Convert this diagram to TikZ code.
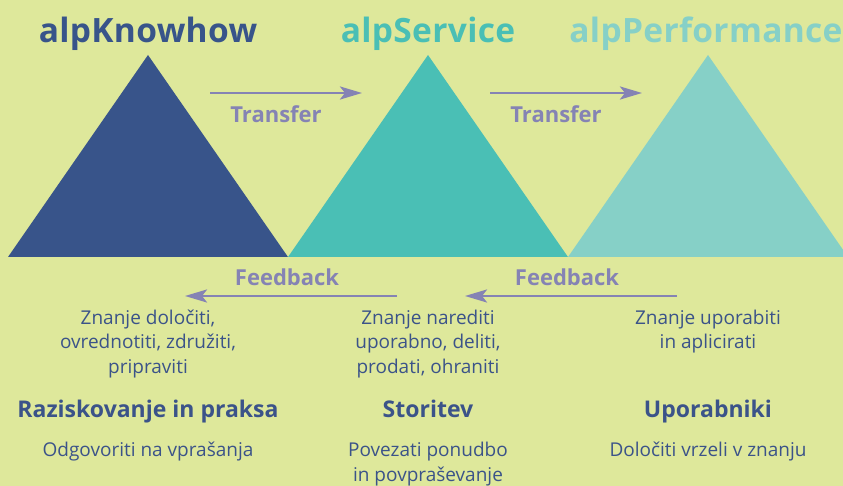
\documentclass[tikz,border=0pt]{standalone}
\usepackage{fontspec}
\setmainfont{Open Sans}
\newfontfamily\titlefont[LetterSpace=1]{Open Sans Bold}
\usetikzlibrary{arrows.meta}
\definecolor{bg}{HTML}{DEE89B}
\definecolor{dblue}{HTML}{38548A}
\definecolor{teal1}{HTML}{4ABFB5}
\definecolor{teal2}{HTML}{86D0C7}
\definecolor{arr}{HTML}{8583B4}
\definecolor{txt}{HTML}{3B5389}
\tikzset{
  title/.style={anchor=base,inner sep=0pt,font=\titlefont\fontsize{33.5}{38}\selectfont},
  flowlbl/.style={anchor=base,inner sep=0pt,text=arr,font=\bfseries\fontsize{22}{26}\selectfont},
  flowarrow/.style={draw=arr,line width=2.8pt,-{Stealth[length=22pt,width=13pt,inset=5pt]}},
  bodytxt/.style={anchor=base,inner sep=0pt,align=center,text=txt,font=\fontsize{19}{24.5}\selectfont},
  headtxt/.style={anchor=base,inner sep=0pt,text=txt,font=\bfseries\fontsize{23}{27}\selectfont},
}
\begin{document}
\begin{tikzpicture}[x=1pt,y=-1pt]
\fill[bg] (0,0) rectangle (843,486);
\useasboundingbox (0,0) rectangle (843,486);
\begin{scope}
\clip (0,0) rectangle (843,486);
\fill[dblue] (8,257) -- (148,55) -- (288,257) -- cycle;
\fill[teal1] (288,257) -- (428,55) -- (568,257) -- cycle;
\fill[teal2] (568,257) -- (708,55) -- (848,257) -- cycle;
\end{scope}
\node[title,text=dblue] (t1) at (148,43) {alpKnowhow};
\node[title,text=teal1] (t2) at (428,43) {alpService};
\node[title,text=teal2] (t3) at (706,43) {alpPerformance};
% transfer arrows
\coordinate (ta1) at (210,93);
\coordinate (tb1) at (362,93);
\coordinate (ta2) at (490,93);
\coordinate (tb2) at (642,93);
\draw[flowarrow] (ta1) -- (tb1);
\draw[flowarrow] (ta2) -- (tb2);
\node[flowlbl] (tr1) at (276,123) {Transfer};
\node[flowlbl] (tr2) at (556,123) {Transfer};
% feedback arrows
\coordinate (fa1) at (397,296);
\coordinate (fb1) at (185,296);
\coordinate (fa2) at (677,296);
\coordinate (fb2) at (465,296);
\draw[flowarrow] (fa1) -- (fb1);
\draw[flowarrow] (fa2) -- (fb2);
\node[flowlbl] (fe1) at (287,286) {Feedback};
\node[flowlbl] (fe2) at (567,286) {Feedback};
% body text (base anchor = last line baseline)
\node[bodytxt] (b1) at (148,373) {Znanje določiti,\\ovrednotiti, združiti,\\pripraviti};
\node[bodytxt] (b2) at (428,373) {Znanje narediti\\uporabno, deliti,\\prodati, ohraniti};
\node[bodytxt] (b3) at (708,348.5) {Znanje uporabiti\\in aplicirati};
\node[headtxt] (h1) at (148,417) {Raziskovanje in praksa};
\node[headtxt] (h2) at (428,417) {Storitev};
\node[headtxt] (h3) at (708,417) {Uporabniki};
\node[bodytxt] (d1) at (148,456) {Odgovoriti na vprašanja};
\node[bodytxt] (d2) at (428,481) {Povezati ponudbo\\in povpraševanje};
\node[bodytxt] (d3) at (708,456) {Določiti vrzeli v znanju};
\end{tikzpicture}
\end{document}
